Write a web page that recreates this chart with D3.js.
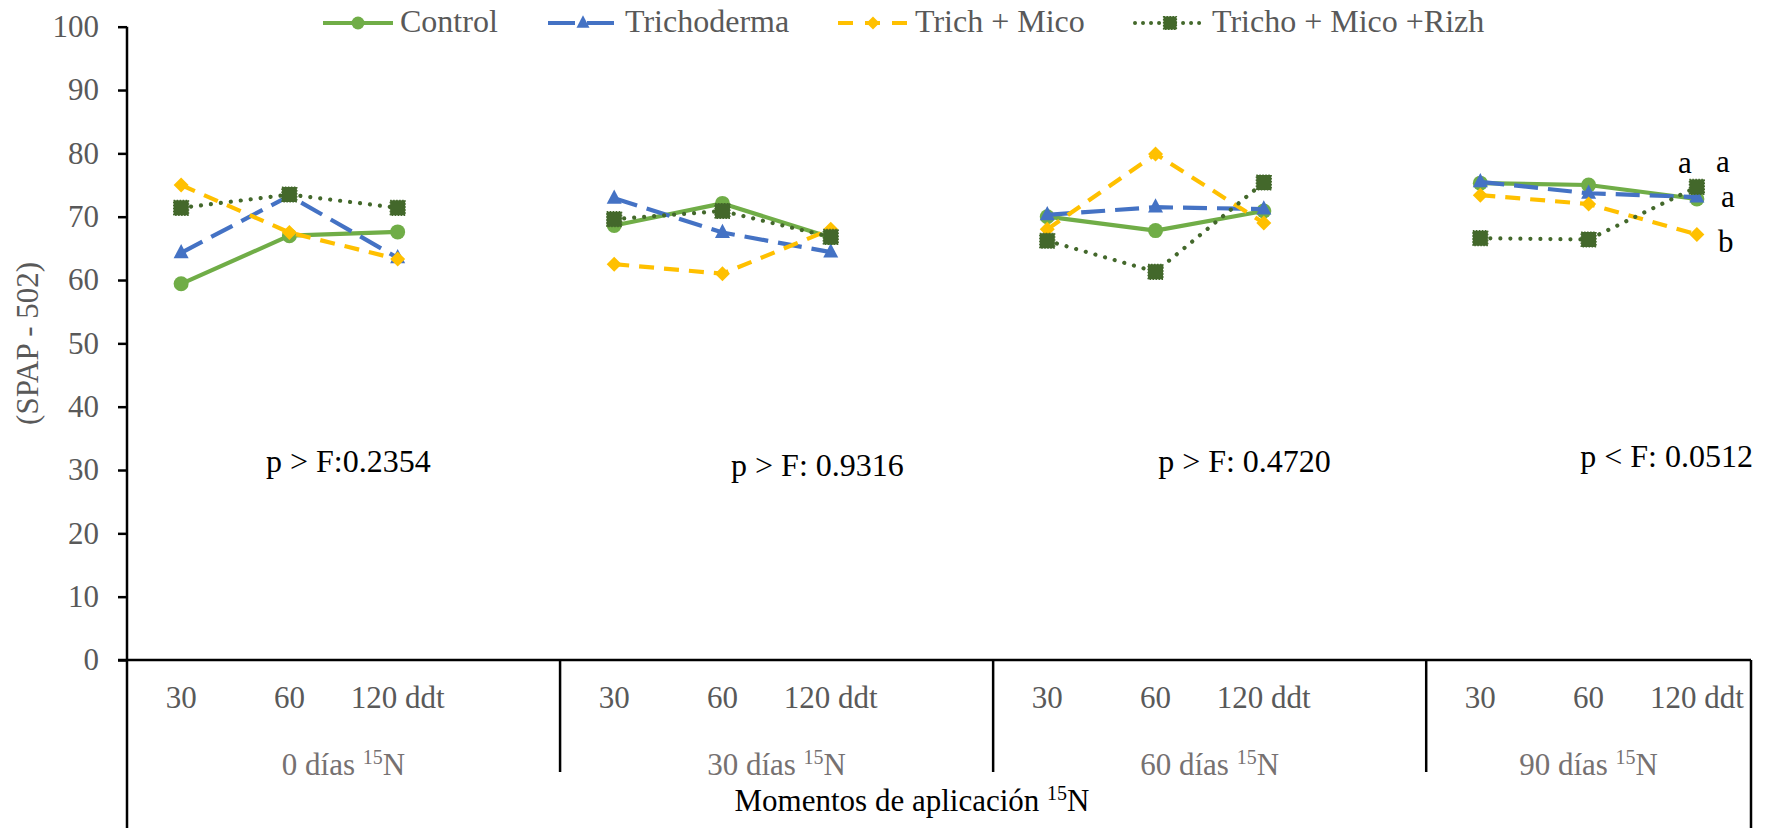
<!DOCTYPE html>
<html>
<head>
<meta charset="utf-8">
<script src="https://cdn.jsdelivr.net/npm/d3@7"></script>
<style>
  body { margin: 0; background: #fff; }
  svg { display: block; }
  svg text { font-family: "Liberation Serif", "Times New Roman", serif !important; }
</style>
</head>
<body>
<svg id="chart" width="1767" height="828" font-family="Liberation Serif, serif"></svg>
<script>
// ---- data ----
const groups = ["0 días", "30 días", "60 días", "90 días"];
const moments = ["30", "60", "120 ddt"];
const seriesNames = ["Control", "Trichoderma", "Trich + Mico", "Tricho + Mico +Rizh"];
const control       = [[59.4, 67.0, 67.6], [68.6, 72.1, 66.7], [70.0, 67.8, 70.9], [75.3, 75.0, 72.8]];
const trichoderma   = [[64.3, 73.3, 63.5], [72.9, 67.5, 64.4], [70.3, 71.5, 71.2], [75.5, 73.7, 73.1]];
const trichMico     = [[75.0, 67.5, 63.3], [62.5, 61.0, 68.0], [68.0, 79.9, 69.0], [73.4, 72.0, 67.2]];
const trichMicoRizh = [[71.4, 73.5, 71.4], [69.6, 70.9, 66.8], [66.2, 61.3, 75.4], [66.6, 66.4, 74.7]];
const pValues = ["p > F:0.2354", "p > F: 0.9316", "p > F: 0.4720", "p < F: 0.0512"];
const yTicks = [0, 10, 20, 30, 40, 50, 60, 70, 80, 90, 100];
// mean-separation letters at 90 días, 120 ddt (series index -> letter)
const letterSeries = [3, 0, 1, 2];
const letterText = ["a", "a", "a", "b"];

// ---- styles ----
const FONT = '"Liberation Serif", "Times New Roman", serif';
const styles = [
  { color: "#70AD47", dash: null,      cap: "butt",  marker: "circle"   },
  { color: "#4472C4", dash: "24 10",   cap: "butt",  marker: "triangle" },
  { color: "#FFC000", dash: "15 10",   cap: "butt",  marker: "diamond"  },
  { color: "#43682B", dash: "0.01 10", cap: "round", marker: "square"   }
];
const seriesData = [control, trichoderma, trichMico, trichMicoRizh];

const svg = d3.select("#chart");
const plotLeft = 127, plotRight = 1751, plotTop = 26.7, plotBottom = 660;

function label(parent, px, py, size, color, anchor) {
  return parent.append("text").attr("x", px).attr("y", py)
    .attr("text-anchor", anchor || "start")
    .style("font-family", FONT).style("font-size", size + "px").attr("fill", color);
}

// one slot per moment; a blank slot separates consecutive groups
const slots = [];
groups.forEach((g, gi) => {
  moments.forEach(m => slots.push(g + "|" + m));
  if (gi < groups.length - 1) slots.push(g + "|blank");
});

const x = d3.scaleBand().domain(slots).range([plotLeft, plotRight]).padding(0);
const y = d3.scaleLinear().domain([0, 100]).range([plotBottom, plotTop]);
const cx = (g, m) => x(g + "|" + m) + x.bandwidth() / 2;

// ---- y axis ----
const yAxis = d3.axisLeft(y).tickValues(yTicks).tickSize(9).tickPadding(19);
const yg = svg.append("g").attr("transform", `translate(${plotLeft},0)`).call(yAxis)
  .attr("font-family", null).attr("font-size", null);
yg.select(".domain").remove();
yg.selectAll(".tick line").attr("stroke", "#000").attr("stroke-width", 2.5);
yg.selectAll(".tick text")
  .attr("fill", "#595959")
  .style("font-family", FONT).style("font-size", "31px");

svg.append("text")
  .attr("transform", `translate(38,${(plotTop + 660) / 2}) rotate(-90)`)
  .attr("text-anchor", "middle")
  .style("font-family", FONT).style("font-size", "31px").attr("fill", "#595959")
  .text("(SPAP - 502)");

// ---- frame lines of the category axis ----
const lineColor = "#000";
svg.append("line").attr("x1", plotLeft).attr("x2", plotLeft).attr("y1", plotTop).attr("y2", 828)
  .attr("stroke", lineColor).attr("stroke-width", 2.5);
svg.append("line").attr("x1", plotLeft - 9).attr("x2", plotRight).attr("y1", plotBottom).attr("y2", plotBottom)
  .attr("stroke", lineColor).attr("stroke-width", 2.5);
svg.append("line").attr("x1", plotRight).attr("x2", plotRight).attr("y1", plotBottom).attr("y2", 828)
  .attr("stroke", lineColor).attr("stroke-width", 2.5);

groups.forEach((g, gi) => {
  const start = x(g + "|" + moments[0]);
  const end = gi < groups.length - 1 ? x(g + "|blank") + x.bandwidth() : plotRight;
  if (gi > 0) {
    svg.append("line").attr("x1", start).attr("x2", start).attr("y1", plotBottom).attr("y2", 772)
      .attr("stroke", lineColor).attr("stroke-width", 2.5);
  }
  // moment labels
  moments.forEach(m => {
    label(svg, cx(g, m), 708, 31, "#595959", "middle").text(m);
  });
  // group label with superscript 15
  const t = label(svg, (start + end) / 2, 775, 31, "#767171", "middle");
  t.append("tspan").text(g + " ");
  t.append("tspan").style("font-size", "20px").attr("dy", -11).text("15");
  t.append("tspan").attr("dy", 11).text("N");
});

// axis title
const xt = label(svg, 912, 811, 31, "#000", "middle");
xt.append("tspan").text("Momentos de aplicación ");
xt.append("tspan").style("font-size", "20px").attr("dy", -11).text("15");
xt.append("tspan").attr("dy", 11).text("N");

// ---- markers ----
function drawMarker(sel, type, color, px, py, s) {
  if (type === "circle") {
    sel.append("circle").attr("cx", px).attr("cy", py).attr("r", s / 2).attr("fill", color);
  } else if (type === "triangle") {
    const h = s * 0.95;
    sel.append("path")
      .attr("d", `M${px},${py - h * 0.62}L${px + s / 2},${py + h * 0.38}L${px - s / 2},${py + h * 0.38}Z`)
      .attr("fill", color);
  } else if (type === "diamond") {
    const r = s / 2;
    sel.append("path")
      .attr("d", `M${px},${py - r}L${px + r},${py}L${px},${py + r}L${px - r},${py}Z`)
      .attr("fill", color);
  } else {
    sel.append("rect").attr("x", px - s / 2).attr("y", py - s / 2).attr("width", s).attr("height", s)
      .attr("fill", color).attr("stroke", color).attr("stroke-width", 1.2).attr("stroke-dasharray", "1.5 1.5");
  }
}

// ---- series ----
const line = d3.line().x(d => d[0]).y(d => d[1]);
seriesData.forEach((series, si) => {
  const st = styles[si];
  const g = svg.append("g");
  series.forEach((vals, gi) => {
    const pts = vals.map((v, mi) => [cx(groups[gi], moments[mi]), y(v)]);
    g.append("path").attr("d", line(pts)).attr("fill", "none")
      .attr("stroke", st.color).attr("stroke-width", 4.2)
      .attr("stroke-linecap", st.cap).attr("stroke-linejoin", "round")
      .attr("stroke-dasharray", st.dash);
    pts.forEach(p => drawMarker(g, st.marker, st.color, p[0], p[1], 15));
  });
});

// ---- p values ----
const pOffsets = [139, 171, 165, 154];
const pBaselines = [472, 476, 472, 467];
groups.forEach((g, gi) => {
  label(svg, x(g + "|" + moments[0]) + pOffsets[gi], pBaselines[gi], 32, "#000").text(pValues[gi]);
});

// ---- letters at 90 días, 120 ddt ----
const letterOffsets = [[-12, -14], [26, -27], [31, 10], [29, 18]];
letterSeries.forEach((si, i) => {
  const gi = groups.length - 1;
  const px = cx(groups[gi], moments[2]);
  const py = y(seriesData[si][gi][2]);
  label(svg, px + letterOffsets[i][0], py + letterOffsets[i][1], 31, "#000", "middle").text(letterText[i]);
});

// ---- legend ----
const legendX = [323, 548, 838, 1135];
const legendDash = [null, "27 12", "15 12", "0.01 8"];
seriesNames.forEach((name, si) => {
  const st = styles[si];
  const lg = svg.append("g");
  const x0 = legendX[si], yc = 23;
  lg.append("line").attr("x1", x0).attr("x2", x0 + 70).attr("y1", yc).attr("y2", yc)
    .attr("stroke", st.color).attr("stroke-width", 4).attr("stroke-linecap", st.cap)
    .attr("stroke-dasharray", legendDash[si]);
  drawMarker(lg, st.marker, st.color, x0 + 35, yc, 13);
  label(lg, x0 + 77, 32, 32, "#595959").text(name);
});
</script>
</body>
</html>
